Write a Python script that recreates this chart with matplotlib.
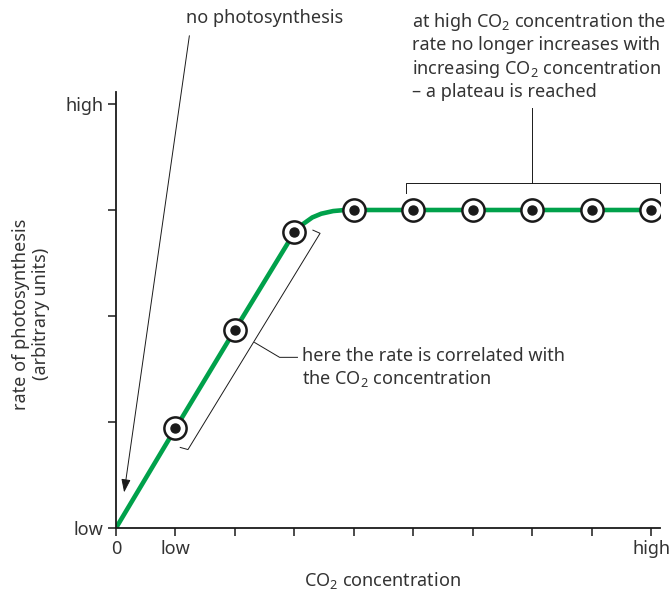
import matplotlib.pyplot as plt

plt.rcParams['font.family'] = ['Noto Sans', 'DejaVu Sans']
plt.rcParams['mathtext.fontset'] = 'custom'
plt.rcParams['mathtext.rm'] = 'Noto Sans'
plt.rcParams['mathtext.it'] = 'Noto Sans'

# Datos (unidades arbitrarias)
conc = [1, 2, 3, 4, 5, 6, 7, 8, 9]
rate = [0.94, 1.87, 2.79, 3.0, 3.0, 3.0, 3.0, 3.0, 3.0]

# Curva verde (pasa por los puntos, con el codo hacia la meseta)
curve_x = [0, 1, 2, 3, 3.15, 3.3, 3.45, 3.65, 3.85, 4, 5, 6, 7, 8, 9]
curve_y = [0, 0.94, 1.87, 2.79, 2.87, 2.93, 2.965, 2.99, 3.0, 3.0, 3.0, 3.0, 3.0, 3.0, 3.0]

x_ticks = [0, 1, 2, 3, 4, 5, 6, 7, 8, 9]
x_labels = ['0', 'low', '', '', '', '', '', '', '', 'high']
y_ticks = [0, 1, 2, 3, 4]
y_labels = ['low', '', '', '', 'high']

txt = '#333333'
green = '#00a14b'
fs = 13

fig = plt.figure(figsize=(6.72, 5.91), dpi=100)
ax = fig.add_axes([0.1726, 0.1066, 0.8095, 0.7377])

ax.plot(curve_x, curve_y, color=green, lw=3.3, solid_capstyle='butt', zorder=2)
ax.plot(conc, rate, 'o', ms=16, mfc='white', mec='#1a1a1a', mew=1.8, zorder=3)
ax.plot(conc, rate, 'o', ms=6.5, mfc='#1a1a1a', mec='#1a1a1a', zorder=4)

ax.set_xlim(0, 9.143)
ax.set_ylim(0, 4.113)
for s in ['top', 'right']:
    ax.spines[s].set_visible(False)
for s in ['left', 'bottom']:
    ax.spines[s].set_linewidth(1.3)
    ax.spines[s].set_color('#1a1a1a')

ax.set_xticks(x_ticks)
ax.set_xticklabels(x_labels)
ax.set_yticks(y_ticks)
ax.set_yticklabels(y_labels)
ax.tick_params(axis='both', length=6, width=1.1, color='#1a1a1a',
               labelsize=fs, labelcolor=txt, pad=3)

ax.set_xlabel('CO$_2$ concentration', fontsize=fs, color=txt)
ax.xaxis.set_label_coords(0.49, -0.096)
ax.set_ylabel('rate of photosynthesis\n(arbitrary units)', fontsize=fs,
              color=txt, linespacing=1.15)
ax.yaxis.set_label_coords(-0.121, 0.49)

# "no photosynthesis"
ax.annotate('', xy=(0.13, 0.31), xytext=(1.24, 4.67),
            arrowprops=dict(arrowstyle='-|>,head_length=0.8,head_width=0.28',
                            color='#1a1a1a', lw=0.7),
            annotation_clip=False)
fig.text(186 / 672, 1 - 18 / 591, 'no photosynthesis', fontsize=fs,
         color=txt, va='center', ha='left')

# corchete de la parte lineal
bx = [1.08, 1.21, 3.43, 3.31]
by = [0.76, 0.74, 2.78, 2.81]
ax.plot(bx, by, color='#1a1a1a', lw=0.7, clip_on=False)
ax.plot([2.33, 2.75, 3.05], [1.75, 1.61, 1.61], color='#1a1a1a', lw=0.7,
        clip_on=False)
ax.text(3.13, 1.71, 'here the rate is correlated with\nthe CO$_2$ concentration',
        fontsize=fs, color=txt, va='top', ha='left', linespacing=1.2)

# corchete de la meseta
ax.plot([4.87, 4.87, 9.14, 9.14], [3.16, 3.25, 3.25, 3.16], color='#1a1a1a',
        lw=0.7, clip_on=False)
ax.plot([7.0, 7.0], [3.25, 3.96], color='#1a1a1a', lw=0.7, clip_on=False)
fig.text(412 / 672, 1 - 11 / 591,
         'at high CO$_2$ concentration the\nrate no longer increases with\n'
         'increasing CO$_2$ concentration\n– a plateau is reached',
         fontsize=fs, color=txt, va='top', ha='left', linespacing=1.22)

plt.savefig('out.png', dpi=100)
